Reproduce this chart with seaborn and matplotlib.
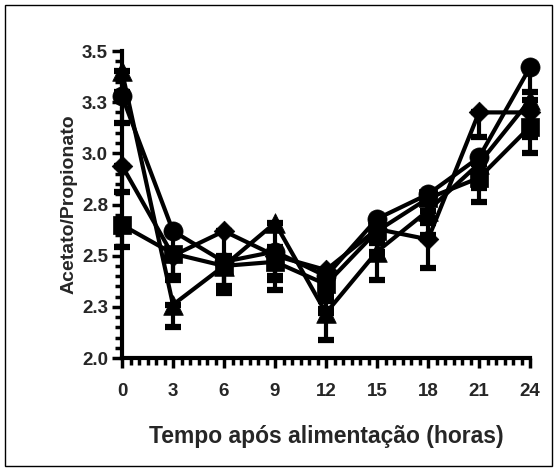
import matplotlib
matplotlib.use("Agg")
import matplotlib.pyplot as plt
import seaborn as sns
import pandas as pd
import numpy as np
from matplotlib.patches import Rectangle
from matplotlib.ticker import MultipleLocator

times = [0, 3, 6, 9, 12, 15, 18, 21, 24]
circle = [3.28, 2.62, 2.47, 2.52, 2.40, 2.68, 2.80, 2.98, 3.42]
square = [2.65, 2.51, 2.45, 2.47, 2.36, 2.62, 2.78, 2.88, 3.13]
triangle = [3.40, 2.26, 2.45, 2.66, 2.22, 2.52, 2.72, 2.95, 3.26]
diamond = [2.94, 2.50, 2.62, 2.50, 2.43, 2.63, 2.58, 3.20, 3.20]
err_circle = [0.13, 0.10, 0.12, 0.12, 0.12, 0.12, 0.12, 0.12, 0.12]
err_square = [0.11, 0.13, 0.13, 0.14, 0.12, 0.12, 0.12, 0.12, 0.13]
err_triangle = [0.10, 0.11, 0.12, 0.12, 0.13, 0.14, 0.12, 0.12, 0.12]
err_diamond = [0.13, 0.10, 0.12, 0.12, 0.12, 0.12, 0.14, 0.12, 0.12]

y_ticks = [2.0, 2.25, 2.5, 2.75, 3.0, 3.25, 3.5]
y_tick_labels = ["2.0", "2.3", "2.5", "2.8", "3.0", "3.3", "3.5"]
x_ticks = [0, 3, 6, 9, 12, 15, 18, 21, 24]

series = {"circle": (circle, err_circle, "o"),
          "square": (square, err_square, "s"),
          "triangle": (triangle, err_triangle, "^"),
          "diamond": (diamond, err_diamond, "D")}

rows = []
for name, (vals, errs, m) in series.items():
    for t, v in zip(times, vals):
        rows.append({"t": t, "v": v, "s": name})
df = pd.DataFrame(rows)

sns.set_style("white")
plt.rcParams['font.family'] = ['Liberation Sans', 'DejaVu Sans']

fig = plt.figure(figsize=(5.57, 4.71), dpi=100)
ax = fig.add_axes([122/557, 1-358/471, (530-122)/557, (358-51)/471])

for name, (vals, errs, m) in series.items():
    ax.errorbar(times, vals, yerr=[errs, [0]*len(errs)], fmt="none",
                ecolor="black", elinewidth=3, capsize=6, capthick=4.5,
                clip_on=False, zorder=2)
for line in ax.get_lines():
    line.set_solid_capstyle("round")

sns.lineplot(data=df, x="t", y="v", units="s", estimator=None,
             color="black", linewidth=3, ax=ax, legend=False, zorder=3)
for line in ax.get_lines():
    line.set_clip_on(False)

marker_map = {k: v[2] for k, v in series.items()}
for name, size in [("circle", 190), ("square", 170), ("triangle", 200), ("diamond", 110)]:
    sub = df[df["s"] == name]
    sns.scatterplot(data=sub, x="t", y="v", marker=marker_map[name], s=size,
                    color="black", edgecolor="black", linewidth=0.5,
                    ax=ax, legend=False, zorder=4, clip_on=False)

ax.set_xlim(0, 24)
ax.set_ylim(2.0, 3.5)
ax.set_xticks(x_ticks)
ax.set_yticks(y_ticks)
ax.set_yticklabels(y_tick_labels)
ax.xaxis.set_minor_locator(MultipleLocator(0.5))
ax.yaxis.set_minor_locator(MultipleLocator(0.05))
ax.set_xlabel("")
ax.set_ylabel("")

for side in ["top", "right"]:
    ax.spines[side].set_visible(False)
for side in ["left", "bottom"]:
    ax.spines[side].set_linewidth(3)
    ax.spines[side].set_color("black")

ax.tick_params(axis="both", which="major", direction="out", length=7, width=2.5,
               labelsize=13.5, color="black")
ax.tick_params(axis="x", which="major", pad=11)
ax.tick_params(axis="y", which="major", pad=3)
ax.tick_params(axis="both", which="minor", direction="out", length=5, width=2.5, color="black")
ax.tick_params(left=True, bottom=True, which="both")
for lab in ax.get_xticklabels() + ax.get_yticklabels():
    lab.set_fontweight("bold")

ax.set_xlabel("Tempo após alimentação (horas)", fontsize=16.5, fontweight="bold", labelpad=18)
ax.set_ylabel("Acetato/Propionato", fontsize=14, fontweight="bold", labelpad=3)

fig.patches.append(Rectangle((5/557, 5/471), 547/557, 461/471, transform=fig.transFigure,
                             fill=False, edgecolor="black", linewidth=1))

fig.savefig("out.png", dpi=100)
